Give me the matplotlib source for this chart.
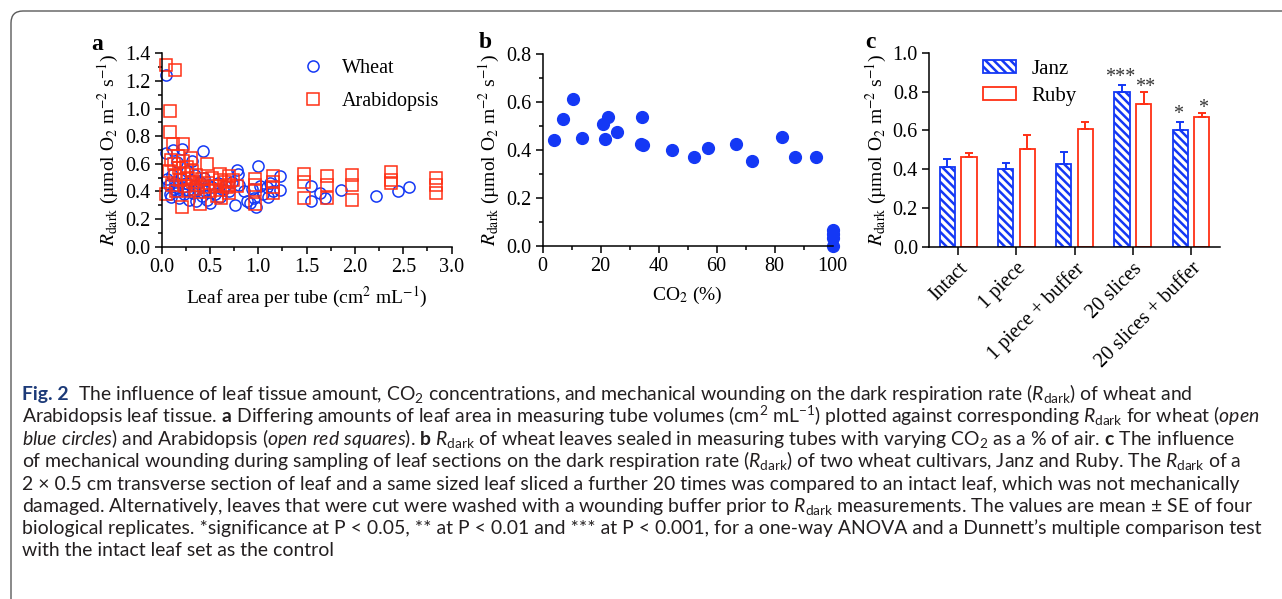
import numpy as np
import matplotlib
matplotlib.use("Agg")
import matplotlib.pyplot as plt
from matplotlib.patches import FancyBboxPatch, Patch
from matplotlib.ticker import MultipleLocator, FormatStrFormatter

# ---- data ----
# panel a: leaf area per tube vs Rdark
wheat_area = [0.04, 0.05, 0.06, 0.08, 0.09, 0.10, 0.11, 0.12, 0.13, 0.14, 0.15, 0.16, 0.17, 0.18,
              0.20, 0.21, 0.22, 0.23, 0.25, 0.26, 0.27, 0.28, 0.30, 0.31, 0.32, 0.33, 0.35, 0.36,
              0.38, 0.40, 0.42, 0.43, 0.44, 0.45, 0.47, 0.48, 0.50, 0.52, 0.55, 0.58, 0.60, 0.63,
              0.66, 0.70, 0.73, 0.76, 0.78, 0.79, 0.80, 0.85, 0.88, 0.91, 0.93, 0.96, 0.98, 1.00,
              1.02, 1.05, 1.09, 1.10, 1.12, 1.15, 1.22, 1.22, 1.55, 1.55, 1.64, 1.69, 1.86, 2.22,
              2.45, 2.56]
wheat_rdark = [1.24, 0.68, 0.49, 0.45, 0.38, 0.36, 0.52, 0.70, 0.42, 0.47, 0.40, 0.61, 0.44, 0.35,
               0.50, 0.71, 0.43, 0.38, 0.46, 0.55, 0.41, 0.34, 0.48, 0.62, 0.39, 0.44, 0.52, 0.33,
               0.42, 0.47, 0.37, 0.695, 0.50, 0.40, 0.34, 0.45, 0.32, 0.43, 0.38, 0.46, 0.36, 0.41,
               0.44, 0.40, 0.47, 0.30, 0.555, 0.53, 0.45, 0.40, 0.33, 0.32, 0.42, 0.35, 0.29, 0.585,
               0.44, 0.38, 0.43, 0.36, 0.46, 0.40, 0.51, 0.41, 0.44, 0.33, 0.39, 0.35, 0.41, 0.37,
               0.40, 0.43]
arab_area = [0.05, 0.14, 0.09, 0.09, 0.12, 0.22, 0.05, 0.08, 0.10, 0.11, 0.13, 0.14, 0.15, 0.17,
             0.18, 0.19, 0.21, 0.22, 0.23, 0.24, 0.26, 0.27, 0.28, 0.30, 0.31, 0.32, 0.34, 0.36,
             0.38, 0.40, 0.42, 0.44, 0.47, 0.48, 0.50, 0.52, 0.55, 0.57, 0.60, 0.60, 0.60, 0.61,
             0.66, 0.68, 0.70, 0.70, 0.70, 0.74, 0.78, 0.97, 0.97, 0.97, 0.97, 1.15, 1.15, 1.15,
             1.15, 1.47, 1.47, 1.47, 1.71, 1.71, 1.71, 1.97, 1.97, 1.97, 2.37, 2.37, 2.37, 2.84,
             2.84, 2.84]
arab_rdark = [1.315, 1.28, 0.98, 0.83, 0.74, 0.74, 0.38, 0.55, 0.63, 0.45, 0.60, 0.52, 0.40, 0.66,
              0.57, 0.48, 0.29, 0.62, 0.53, 0.44, 0.58, 0.50, 0.40, 0.64, 0.55, 0.47, 0.42, 0.52,
              0.45, 0.31, 0.49, 0.43, 0.60, 0.46, 0.40, 0.50, 0.44, 0.37, 0.53, 0.48, 0.41, 0.35,
              0.47, 0.43, 0.51, 0.45, 0.39, 0.48, 0.44, 0.49, 0.41, 0.31, 0.45, 0.51, 0.43, 0.39,
              0.47, 0.53, 0.47, 0.35, 0.51, 0.45, 0.35, 0.52, 0.45, 0.34, 0.54, 0.48, 0.46, 0.495,
              0.45, 0.39]

# panel b: CO2 vs Rdark
co2 = [3.9, 6.9, 10.6, 13.4, 20.7, 22.6, 21.5, 25.5, 34.1, 33.8, 34.5, 44.6, 52.3, 57.1,
       66.6, 72.1, 82.6, 87.0, 94.1, 100, 100, 100, 100]
co2_rdark = [0.442, 0.529, 0.611, 0.451, 0.508, 0.536, 0.446, 0.476, 0.539, 0.425, 0.42, 0.40,
             0.369, 0.407, 0.424, 0.354, 0.453, 0.369, 0.371, 0.065, 0.048, 0.035, 0.0]

# panel c: wounding treatments
treatments = ["Intact", "1 piece", "1 piece + buffer", "20 slices", "20 slices + buffer"]
janz_mean = [0.412, 0.400, 0.424, 0.799, 0.600]
janz_se = [0.038, 0.033, 0.064, 0.034, 0.041]
ruby_mean = [0.460, 0.503, 0.605, 0.735, 0.667]
ruby_se = [0.021, 0.071, 0.038, 0.062, 0.022]
janz_sig = ["", "", "", "***", "*"]
ruby_sig = ["", "", "", "**", "*"]

caption_lines = [
    r"The influence of leaf tissue amount, CO$_2$ concentrations, and mechanical wounding on the dark respiration rate ($\mathit{R}_{\mathrm{dark}}$) of wheat and",
    r"Arabidopsis leaf tissue. $\mathbf{a}$ Differing amounts of leaf area in measuring tube volumes (cm$^2$ mL$^{-1}$) plotted against corresponding $\mathit{R}_{\mathrm{dark}}$ for wheat ($\mathit{open}$",
    r"$\mathit{blue\ circles}$) and Arabidopsis ($\mathit{open\ red\ squares}$). $\mathbf{b}$ $\mathit{R}_{\mathrm{dark}}$ of wheat leaves sealed in measuring tubes with varying CO$_2$ as a % of air. $\mathbf{c}$ The influence",
    r"of mechanical wounding during sampling of leaf sections on the dark respiration rate ($\mathit{R}_{\mathrm{dark}}$) of two wheat cultivars, Janz and Ruby. The $\mathit{R}_{\mathrm{dark}}$ of a",
    "2 \u00d7 0.5 cm transverse section of leaf and a same sized leaf sliced a further 20 times was compared to an intact leaf, which was not mechanically",
    r"damaged. Alternatively, leaves that were cut were washed with a wounding buffer prior to $\mathit{R}_{\mathrm{dark}}$ measurements. The values are mean $\pm$ SE of four",
    "biological replicates. *significance at P < 0.05, ** at P < 0.01 and *** at P < 0.001, for a one-way ANOVA and a Dunnett\u2019s multiple comparison test",
    "with the intact leaf set as the control",
]

BLUE = "#1438f5"
RED = "#ff3015"
capfont = "Lato"

plt.rcParams["font.family"] = "Liberation Serif"
plt.rcParams["mathtext.fontset"] = "custom"
plt.rcParams["mathtext.rm"] = capfont
plt.rcParams["mathtext.it"] = capfont + ":italic"
plt.rcParams["mathtext.bf"] = capfont + ":bold"
plt.rcParams["hatch.linewidth"] = 1.8
plt.rcParams["axes.linewidth"] = 1.1
for k in ["xtick.major.width", "ytick.major.width", "xtick.minor.width", "ytick.minor.width"]:
    plt.rcParams[k] = 1.1

fig = plt.figure(figsize=(12.82, 5.99), dpi=100)

TICK = 14.5
LAB = 14
ylab = r"$R_{\rm dark}$ (µmol O$_2$ m$^{-2}$ s$^{-1}$)"


def style(ax):
    for s in ["top", "right"]:
        ax.spines[s].set_visible(False)
    ax.tick_params(which="major", direction="out", length=5, labelsize=TICK, pad=3)
    ax.tick_params(which="minor", direction="out", length=3)


# panel a
ax1 = fig.add_axes([0.1261, 0.5881, 0.2262, 0.3229])
ax1.plot(wheat_area, wheat_rdark, "o", ms=8, mfc="none", mec=BLUE, mew=1.1, label="Wheat", clip_on=False)
ax1.plot(arab_area, arab_rdark, "s", ms=8.5, mfc="none", mec=RED, mew=1.1, label="Arabidopsis", clip_on=False)
ax1.set_xlim(0, 3.0)
ax1.set_ylim(0, 1.4)
ax1.xaxis.set_major_locator(MultipleLocator(0.5))
ax1.xaxis.set_minor_locator(MultipleLocator(0.25))
ax1.yaxis.set_major_locator(MultipleLocator(0.2))
ax1.yaxis.set_minor_locator(MultipleLocator(0.1))
ax1.xaxis.set_major_formatter(FormatStrFormatter("%.1f"))
ax1.yaxis.set_major_formatter(FormatStrFormatter("%.1f"))
style(ax1)
ax1.set_xlabel("Leaf area per tube (cm$^2$ mL$^{-1}$)", fontsize=LAB, math_fontfamily="stix", labelpad=6)
ax1.set_ylabel(ylab, fontsize=LAB, math_fontfamily="stix", labelpad=3)
ax1.legend(loc="upper left", bbox_to_anchor=(0.44, 1.035), frameon=False, fontsize=14.5,
           handlelength=1.2, handletextpad=0.8, labelspacing=0.7, borderaxespad=0.2)

# panel b
ax2 = fig.add_axes([0.4233, 0.5893, 0.2262, 0.3205])
ax2.plot(co2, co2_rdark, "o", ms=8.5, color=BLUE, clip_on=False)
ax2.set_xlim(0, 100)
ax2.set_ylim(0, 0.8)
ax2.xaxis.set_major_locator(MultipleLocator(20))
ax2.xaxis.set_minor_locator(MultipleLocator(10))
ax2.yaxis.set_major_locator(MultipleLocator(0.2))
ax2.yaxis.set_minor_locator(MultipleLocator(0.1))
ax2.yaxis.set_major_formatter(FormatStrFormatter("%.1f"))
style(ax2)
ax2.set_xlabel("CO$_2$ (%)", fontsize=LAB, math_fontfamily="stix", labelpad=6)
ax2.set_ylabel(ylab, fontsize=LAB, math_fontfamily="stix", labelpad=3)

# panel c
ax3 = fig.add_axes([0.7247, 0.5881, 0.2270, 0.3239])
x = np.arange(len(treatments))
w = 0.26
off = 0.185
ax3.bar(x - off, janz_mean, w, color="white", edgecolor=BLUE, hatch="\\\\\\\\", linewidth=1.3)
ax3.bar(x + off, ruby_mean, w, color="white", edgecolor=RED, linewidth=1.3)
ax3.errorbar(x - off, janz_mean, yerr=[np.zeros(len(x)), janz_se], fmt="none", ecolor=BLUE,
             elinewidth=1.4, capsize=3, capthick=1.4, zorder=1)
ax3.errorbar(x + off, ruby_mean, yerr=[np.zeros(len(x)), ruby_se], fmt="none", ecolor=RED,
             elinewidth=1.4, capsize=3, capthick=1.4, zorder=1)
for i in range(len(x)):
    if janz_sig[i]:
        ax3.text(x[i] - off - 0.03, janz_mean[i] + janz_se[i] + 0.015, janz_sig[i], ha="center",
                 va="baseline", fontsize=14.5, color="#333333")
    if ruby_sig[i]:
        ax3.text(x[i] + off + 0.02, ruby_mean[i] + ruby_se[i] + 0.0, ruby_sig[i], ha="center",
                 va="baseline", fontsize=14.5, color="#333333")
ax3.set_xlim(-0.5, 4.5)
ax3.set_ylim(0, 1.0)
ax3.yaxis.set_major_locator(MultipleLocator(0.2))
ax3.yaxis.set_major_formatter(FormatStrFormatter("%.1f"))
style(ax3)
ax3.set_xticks(x)
ax3.set_xticklabels(treatments, rotation=45, ha="right", rotation_mode="anchor", fontsize=TICK)
ax3.tick_params(axis="x", length=6)
ax3.set_ylabel(ylab, fontsize=LAB, math_fontfamily="stix", labelpad=3)
handles = [Patch(facecolor="white", edgecolor=BLUE, hatch="\\\\\\\\", linewidth=1.3, label="Janz"),
           Patch(facecolor="white", edgecolor=RED, linewidth=1.3, label="Ruby")]
ax3.legend(handles=handles, loc="upper left", bbox_to_anchor=(0.12, 1.06), frameon=False,
           fontsize=15, handlelength=1.6, handleheight=0.6, handletextpad=0.75, labelspacing=0.4)

# panel letters
fig.text(97 / 1282, 1 - 44 / 599, "a", fontsize=17, fontweight="bold", va="center", ha="center")
fig.text(485 / 1282, 1 - 43 / 599, "b", fontsize=17, fontweight="bold", va="center", ha="center")
fig.text(870 / 1282, 1 - 43 / 599, "c", fontsize=17, fontweight="bold", va="center", ha="center")

# caption, size fitted so the fifth line spans about the same width as in the figure
base_y = [400, 423, 445, 467, 490, 512, 534, 556]
capsize = 12.0
cap_texts = []
figlabel = fig.text(22 / 1282, 1 - base_y[0] / 599, "Fig. 2", fontsize=capsize, fontweight="bold",
                    family=capfont, color="#1c3a78", va="baseline")
for i, line in enumerate(caption_lines):
    t = fig.text(22 / 1282, 1 - base_y[i] / 599, line, fontsize=capsize, family=capfont,
                 color="#231f20", va="baseline", math_fontfamily="custom")
    cap_texts.append(t)
r = fig.canvas.get_renderer()
scale = (1236 - 22) / cap_texts[4].get_window_extent(r).width
for t in cap_texts + [figlabel]:
    t.set_fontsize(capsize * scale)
fl_right = figlabel.get_window_extent(r).x1
cap_texts[0].set_x((fl_right + 9) / 1282)

# frame
frame = FancyBboxPatch((0.11, -1.0), 14, 5.88 + 1.0, boxstyle="round,pad=0,rounding_size=0.12",
                       transform=fig.dpi_scale_trans, fill=False, edgecolor="#5a5a5a", linewidth=1.0)
fig.patches.append(frame)

fig.savefig("out.png", dpi=100)
